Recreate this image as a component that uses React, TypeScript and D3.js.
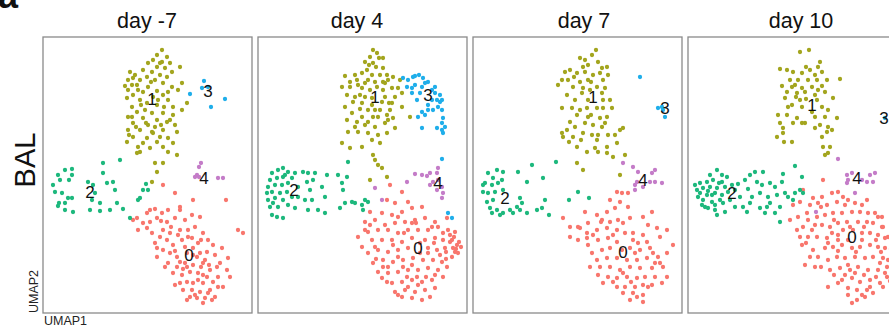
import * as d3 from 'd3';

// cluster positions (x to the right, y downward, panel grid 209 x 276)
const days = ['day -7', 'day 4', 'day 7', 'day 10'];
const clusters = ['0', '1', '2', '3', '4'];
const clusterColors = ['#F8766D', '#A3A51E', '#1DB87D', '#1FAEEA', '#C47CC8'];

const p1c0 = [[120,148],[132,156],[150,163],[183,163],[94,181],[90,183],[107,173],[112,172],[119,176],[125,173],[137,170],[137,173],[95,193],[107,185],[114,181],[124,185],[132,181],[142,183],[149,178],[157,180],[109,196],[120,193],[127,196],[137,193],[145,193],[152,190],[160,196],[165,203],[170,208],[195,193],[200,196],[112,206],[124,203],[130,208],[139,203],[149,201],[155,206],[120,213],[114,220],[127,216],[134,220],[157,216],[164,215],[172,218],[177,226],[185,221],[125,226],[134,230],[142,226],[150,228],[160,226],[167,233],[130,236],[139,238],[147,235],[155,236],[175,240],[187,240],[137,246],[144,245],[150,246],[160,246],[170,245],[180,250],[140,253],[149,253],[157,255],[167,253],[147,260],[154,261],[162,261],[169,263],[160,266],[165,256],[104,176],[100,186],[117,200],[142,210],[150,211],[154,220],[162,223],[174,230],[137,225],[144,230],[175,250],[132,248],[155,243],[164,240],[114,211],[184,233],[104,191],[179,211],[144,216],[128,190],[135,198],[145,200],[158,203],[150,218],[166,228],[140,232],[132,214],[118,184],[160,238],[152,258],[172,260],[144,263],[158,230],[122,230]];
const p1c1 = [[119,13],[114,18],[124,20],[110,23],[119,25],[127,26],[105,26],[137,30],[114,30],[122,31],[100,33],[109,35],[129,35],[87,35],[92,38],[117,38],[104,40],[124,40],[85,43],[97,43],[112,43],[94,48],[120,46],[82,49],[105,50],[129,50],[85,53],[100,55],[114,54],[135,53],[90,58],[120,58],[84,61],[97,63],[125,63],[104,66],[114,68],[89,70],[130,70],[144,66],[139,73],[94,75],[109,76],[120,76],[85,80],[100,81],[114,83],[127,83],[90,86],[105,88],[132,88],[85,93],[97,93],[120,93],[110,96],[134,95],[90,100],[104,101],[125,101],[84,105],[114,105],[130,106],[95,110],[107,111],[120,110],[97,115],[125,115],[134,118],[94,116],[112,126],[120,126],[114,135],[109,145],[89,48],[110,60],[125,55],[115,63],[102,73],[89,80],[124,85],[109,95],[117,100],[100,106],[139,46],[90,41],[117,26],[95,53],[108,45],[93,90],[103,86],[118,88],[130,78],[98,68],[121,70],[112,90],[86,98]];
const p1c2 = [[10,148],[15,138],[22,133],[29,132],[29,138],[17,143],[26,143],[12,155],[19,156],[16,166],[22,166],[25,161],[29,161],[30,175],[22,173],[15,169],[45,145],[50,148],[60,126],[60,136],[64,146],[70,145],[72,153],[49,163],[57,166],[47,173],[57,174],[67,173],[74,166],[77,123],[80,172],[87,181],[97,161],[100,153],[103,147],[105,153],[95,163],[52,156]];
const p1c3 = [[147,57],[159,51],[161,44],[168,70],[182,62],[165,50]];
const p1c4 = [[158,126],[156,130],[152,140],[156,140],[175,141],[180,141],[154,138]];

const p2c0 = [[132,148],[144,155],[129,163],[137,166],[150,165],[112,175],[124,176],[134,178],[144,175],[154,171],[164,170],[107,185],[117,183],[127,188],[137,186],[147,185],[157,183],[167,181],[177,185],[189,181],[100,200],[110,195],[120,193],[130,193],[140,196],[150,193],[160,193],[170,193],[180,190],[190,193],[197,195],[104,210],[114,203],[124,203],[134,203],[144,205],[154,201],[167,203],[177,201],[185,203],[194,203],[199,208],[197,215],[200,216],[194,220],[110,216],[120,213],[130,215],[140,213],[150,211],[170,211],[179,213],[187,211],[115,226],[125,223],[135,225],[145,223],[155,221],[165,223],[175,223],[184,225],[120,235],[130,236],[140,235],[150,233],[160,233],[170,231],[180,233],[134,246],[144,245],[154,243],[164,245],[174,243],[137,255],[147,253],[157,255],[167,253],[177,251],[154,261],[164,263],[172,260],[144,260],[159,240],[149,240],[129,245],[189,230],[195,211],[117,210],[107,193],[162,216],[140,220],[170,216],[154,228],[130,230],[177,238],[185,240],[124,241],[192,205],[196,200],[201,205],[198,212],[203,210],[192,198],[188,215],[182,218],[176,206],[162,206],[158,186],[146,196],[135,208],[125,230],[118,222],[145,230],[160,248],[150,250],[140,258],[168,240],[188,222],[174,190],[154,186],[185,196],[140,180],[112,188]];
const p2c1 = [[115,13],[119,16],[112,20],[121,21],[107,25],[115,26],[109,33],[125,31],[104,36],[97,38],[87,39],[114,38],[122,38],[129,38],[135,40],[142,43],[99,43],[110,43],[117,45],[127,46],[84,50],[92,50],[104,51],[112,53],[125,53],[134,51],[140,51],[89,58],[97,60],[107,60],[127,60],[137,60],[144,56],[95,65],[104,66],[114,68],[124,65],[134,66],[87,70],[110,73],[122,73],[132,73],[144,70],[94,76],[104,80],[115,80],[129,78],[135,81],[89,83],[97,90],[107,88],[117,90],[127,86],[137,91],[152,80],[90,95],[100,95],[110,96],[120,98],[129,96],[114,103],[122,106],[84,106],[92,111],[104,110],[115,118],[117,123],[120,128],[124,131],[129,140],[112,143],[125,21],[100,48],[107,46],[130,43],[119,50],[114,61],[120,80],[130,83],[99,85],[102,72],[117,73],[110,85],[125,45],[118,30],[111,28],[92,45],[102,58],[131,66]];
const p2c2 = [[14,136],[20,133],[25,131],[30,135],[37,136],[12,143],[19,141],[25,140],[34,141],[10,150],[17,148],[24,148],[30,146],[14,155],[22,156],[29,155],[40,150],[10,163],[17,161],[25,163],[34,160],[12,170],[20,170],[30,168],[14,178],[19,180],[25,181],[37,171],[45,135],[50,136],[49,145],[55,143],[52,153],[47,163],[54,163],[50,173],[60,173],[67,176],[64,150],[67,160],[69,138],[80,138],[84,146],[89,140],[90,125],[85,153],[82,171],[87,166],[94,165],[97,166],[104,168],[107,163],[110,165],[105,173],[9,156],[15,166],[27,138],[40,160],[57,136]];
const p2c3 = [[145,41],[150,43],[157,39],[161,38],[165,41],[170,45],[177,50],[182,58],[184,63],[180,70],[175,73],[170,73],[167,78],[164,75],[160,80],[185,81],[187,90],[185,96],[179,91],[164,91],[154,51],[149,50],[157,48],[164,50],[162,56],[159,63],[174,63],[170,68],[179,63],[184,73],[155,40],[167,46],[177,56],[154,56],[182,65],[174,53],[184,86],[184,93],[184,122],[190,176],[194,181]];
const p2c4 = [[149,145],[157,137],[164,138],[169,139],[172,136],[179,136],[180,131],[175,145],[172,148],[184,150],[185,156],[184,161],[179,153],[117,151],[124,163],[180,143]];

const p3c0 = [[144,155],[149,156],[137,163],[147,165],[155,156],[142,171],[134,175],[112,175],[124,178],[90,181],[97,190],[107,191],[115,186],[129,183],[137,185],[145,183],[157,181],[170,180],[179,175],[97,200],[105,203],[114,196],[124,193],[134,191],[144,193],[152,196],[160,196],[170,198],[184,191],[187,200],[115,208],[125,203],[135,201],[144,205],[165,206],[174,205],[200,208],[194,216],[119,216],[129,213],[137,211],[157,211],[167,213],[177,211],[185,220],[124,223],[134,221],[144,221],[154,223],[164,223],[174,221],[182,226],[127,230],[137,230],[147,233],[157,230],[167,231],[179,231],[190,230],[194,240],[125,238],[135,240],[144,241],[154,240],[164,241],[172,240],[182,240],[144,250],[152,250],[162,250],[170,248],[179,248],[150,256],[160,256],[170,258],[170,265],[164,260],[189,246],[114,201],[149,213],[160,203],[194,193],[117,230],[130,246],[140,245],[150,236],[158,245],[175,250],[187,226],[180,216],[162,216],[140,198],[128,185],[150,186],[175,188],[120,198],[105,190],[155,170],[157,263]];
const p3c1 = [[123,13],[119,18],[125,25],[112,23],[107,21],[115,28],[129,31],[134,30],[97,33],[92,35],[104,36],[112,35],[120,38],[127,36],[135,38],[89,43],[95,43],[107,45],[115,43],[130,43],[85,48],[100,50],[110,51],[124,50],[132,51],[94,58],[109,56],[129,56],[89,71],[99,71],[107,73],[114,71],[124,71],[130,71],[139,71],[104,78],[115,80],[127,81],[134,80],[89,96],[94,93],[102,90],[112,86],[120,88],[129,90],[147,93],[150,91],[90,100],[100,100],[110,96],[119,98],[125,98],[135,98],[142,98],[104,110],[114,115],[122,111],[134,110],[144,106],[124,103],[134,116],[140,120],[152,118],[104,126],[110,133],[147,138],[130,63],[115,63],[102,63],[137,63],[117,53],[118,45],[101,40],[110,30],[97,85],[118,78],[132,86],[108,103],[96,105],[125,115]];
const p3c2 = [[59,128],[83,125],[15,136],[24,133],[30,135],[20,141],[29,143],[12,146],[19,148],[25,146],[45,135],[54,145],[70,141],[10,155],[15,156],[22,155],[30,153],[14,165],[20,163],[17,171],[24,173],[30,176],[37,173],[44,170],[49,166],[47,173],[54,176],[64,173],[69,171],[76,178],[72,163],[19,176],[27,178],[40,176],[47,161],[105,155],[96,163],[116,161],[10,148]];
const p3c3 = [[167,40],[185,71],[189,70],[190,73],[192,80]];
const p3c4 = [[150,126],[160,130],[165,135],[164,145],[162,148],[162,153],[179,136],[182,133],[177,145],[182,145],[189,146],[170,150]];

const p4c0 = [[135,143],[115,153],[125,161],[134,160],[144,156],[150,155],[160,163],[105,168],[112,165],[122,168],[130,166],[139,168],[149,165],[157,168],[167,166],[174,168],[179,163],[102,183],[110,180],[119,176],[129,180],[137,178],[145,176],[154,176],[164,175],[172,175],[180,176],[187,176],[194,180],[109,193],[115,190],[124,193],[134,188],[142,190],[150,186],[159,185],[170,185],[179,185],[185,186],[194,190],[112,200],[120,200],[129,200],[139,201],[150,198],[174,196],[182,196],[190,198],[197,201],[125,213],[137,211],[145,210],[154,208],[164,211],[172,210],[182,208],[190,210],[197,211],[117,228],[127,230],[140,223],[149,220],[157,221],[167,220],[177,221],[185,220],[195,221],[142,233],[152,231],[162,233],[170,230],[180,233],[190,233],[199,230],[154,243],[164,241],[172,245],[182,243],[192,246],[160,251],[169,253],[179,253],[185,256],[160,258],[169,263],[177,260],[140,250],[150,246],[130,220],[114,208],[150,203],[160,203],[200,223],[199,240],[144,196],[155,193],[165,193],[174,203],[190,180],[195,190],[192,226],[197,236],[200,200],[203,212],[204,226],[202,244],[195,250],[188,240],[176,238],[167,236],[157,238],[146,238],[133,230],[122,220],[118,206],[127,188],[146,183],[162,190],[176,190],[188,203],[168,215],[160,228],[150,214],[140,206],[174,258],[164,266],[182,250],[193,215],[120,183],[133,170],[155,160]];
const p4c1 = [[112,15],[121,13],[132,25],[130,30],[92,32],[99,33],[105,35],[114,36],[122,33],[127,38],[134,35],[152,42],[102,43],[110,43],[120,43],[129,43],[139,43],[94,49],[104,50],[114,51],[124,50],[134,49],[99,55],[109,56],[117,55],[130,53],[137,55],[97,61],[112,63],[129,63],[145,61],[104,68],[114,70],[134,70],[140,73],[90,78],[99,78],[109,81],[117,86],[127,80],[137,80],[149,81],[92,86],[105,86],[114,86],[127,91],[140,90],[89,100],[95,96],[104,105],[134,100],[139,95],[144,93],[135,110],[142,110],[137,118],[140,116],[95,91],[108,60],[118,62],[124,75],[100,70],[107,48],[118,30],[127,58],[96,105],[132,88]];
const p4c2 = [[29,133],[22,138],[34,138],[39,140],[12,146],[19,145],[25,143],[34,145],[9,153],[15,151],[22,150],[29,151],[37,150],[12,156],[19,158],[27,156],[34,158],[15,163],[24,165],[32,163],[20,171],[27,173],[29,178],[37,175],[47,153],[52,160],[47,170],[55,170],[59,175],[67,135],[75,135],[69,145],[74,148],[82,146],[87,150],[94,145],[95,137],[64,160],[72,156],[80,160],[89,158],[97,156],[72,171],[79,170],[77,176],[87,176],[92,185],[107,156],[107,129],[112,153],[114,140],[105,163],[115,156],[100,160],[17,170],[42,163],[57,143],[62,166],[7,148],[10,160],[14,168],[24,158],[31,146],[44,148],[40,155],[20,154],[27,168],[35,166],[62,138],[82,166],[92,170],[60,152],[50,147]];
const p4c3 = [[197,81]];
const p4c4 = [[150,122],[159,138],[160,143],[159,146],[164,136],[174,143],[179,145],[182,138],[187,136],[185,145],[167,156],[128,175]];

// cluster label positions per panel, in the same grid
const labels1 = [[146,218],[109,62],[47,155],[165,54],[161,141]];
const labels2 = [[160,211],[117,60],[36,153],[170,58],[180,146]];
const labels3 = [[150,215],[120,60],[32,161],[192,71],[170,143]];
const labels4 = [[164,200],[124,68],[44,156],[196,81],[169,141]];

const panelPoints = [
  [p1c0, p1c1, p1c2, p1c3, p1c4],
  [p2c0, p2c1, p2c2, p2c3, p2c4],
  [p3c0, p3c1, p3c2, p3c3, p3c4],
  [p4c0, p4c1, p4c2, p4c3, p4c4],
];
const panelLabels = [labels1, labels2, labels3, labels4];

const W = 889;
const H = 328;
const font = '"Liberation Sans", Arial, Helvetica, sans-serif';

export default function App() {
  const lefts = [43, 258, 473, 688];
  const top = 37;
  const ph = 276;
  const pw = 209;
  const titleX = [147, 357, 584, 801];

  return (
    <svg width={W} height={H} style={{ position: 'absolute', left: 0, top: 0, background: '#fff' }}
      fontFamily={font}>
      <text x={-2} y={8} fontSize={36} fontWeight="bold" fill="#111">a</text>
      <text transform={`translate(35,160) rotate(-90)`} textAnchor="middle" fontSize={29} fill="#111">BAL</text>
      <text transform={`translate(38,313) rotate(-90)`} fontSize={12.5} fill="#222">UMAP2</text>
      <text x={44} y={325} fontSize={12.5} fill="#222">UMAP1</text>

      {days.map((day, pi) => {
        const x = d3.scaleLinear().domain([0, 209]).range([lefts[pi], lefts[pi] + pw]);
        const y = d3.scaleLinear().domain([0, 276]).range([top, top + ph]);
        return (
          <g key={day}>
            <text x={titleX[pi]} y={28} textAnchor="middle" fontSize={21.5} fill="#111">{day}</text>
            <rect x={lefts[pi]} y={top} width={pw} height={ph} fill="none" stroke="#8a8a8a" strokeWidth={1.3} />
            {panelPoints[pi].map((pts, ci) => (
              <g key={ci} fill={clusterColors[ci]}>
                {pts.map((d, i) => (
                  <circle key={i} cx={x(d[0])} cy={y(d[1])} r={2.15} />
                ))}
              </g>
            ))}
            {panelLabels[pi].map((d, ci) => (
              <text key={ci} x={x(d[0])} y={y(d[1])} textAnchor="middle" dominantBaseline="central"
                fontSize={17} fill="#111">{clusters[ci]}</text>
            ))}
          </g>
        );
      })}
    </svg>
  );
}
